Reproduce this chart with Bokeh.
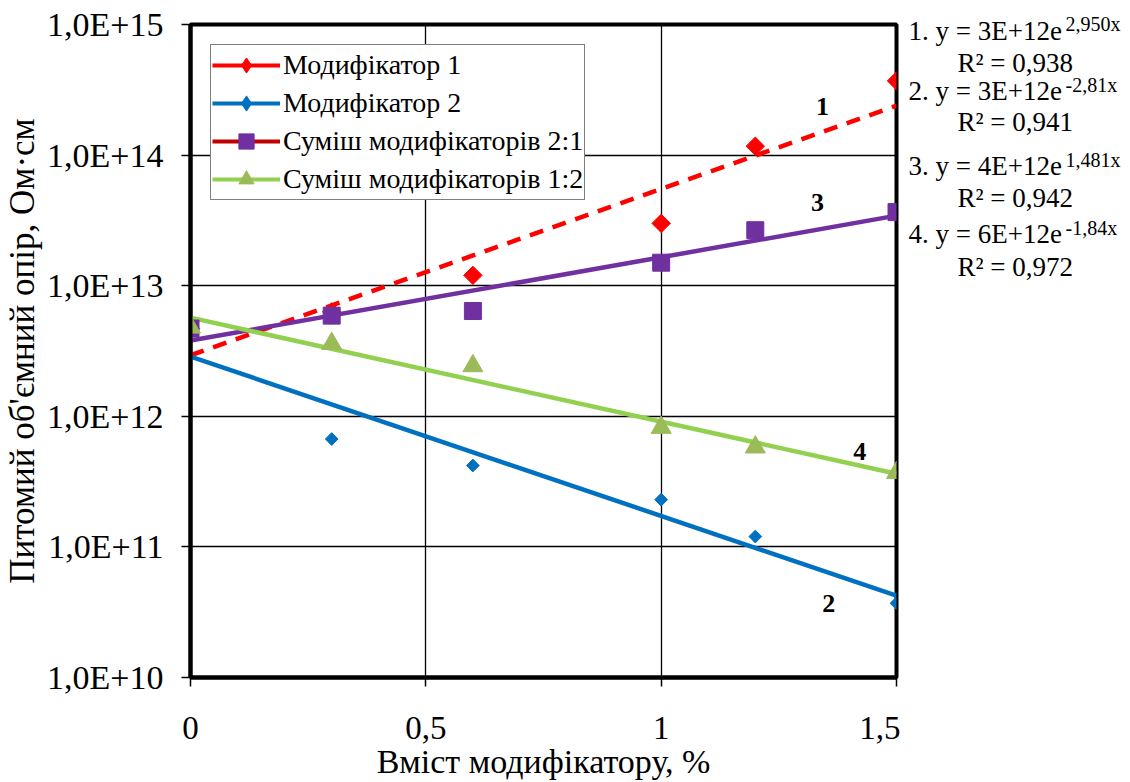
import numpy as np
from bokeh.plotting import figure
from bokeh.layouts import row, column
from bokeh.models import Range1d, FixedTicker, CustomJSTickFormatter, Legend, LegendItem, Label
from bokeh.core.properties import value
from bokeh.embed import file_html
from bokeh.resources import INLINE

# ---------------- data ----------------
x_pct = [0, 0.3, 0.6, 1.0, 1.2, 1.5]
mod1 = [4.7e12, 6.3e12, 1.2e13, 3.0e13, 1.17e14, 3.7e14]
mod2 = [4.7e12, 6.7e11, 4.2e11, 2.3e11, 1.2e11, 3.7e10]
mix21 = [4.7e12, 5.9e12, 6.4e12, 1.5e13, 2.66e13, 3.66e13]
mix12 = [4.8e12, 3.6e12, 2.43e12, 8.2e11, 5.8e11, 3.7e11]

series_names = ["Модифікатор 1", "Модифікатор 2",
                "Суміш модифікаторів 2:1", "Суміш модифікаторів 1:2"]
x_ticks = [0, 0.5, 1.0, 1.5]
y_ticks = [1e10, 1e11, 1e12, 1e13, 1e14, 1e15]

eq_base = ["1. y = 3E+12e", "2. y = 3E+12e", "3. y = 4E+12e", "4. y = 6E+12e"]
eq_exp = ["2,950x", "-2,81x", "1,481x", "-1,84x"]
eq_r2 = ["R² = 0,938", "R² = 0,941", "R² = 0,942", "R² = 0,972"]

curve_ids = ["1", "2", "3", "4"]
curve_id_x = [1.343, 1.356, 1.332, 1.422]
curve_id_y = [2.36e14, 3.7e10, 4.3e13, 5.4e11]

# text layout of the equation panel (page pixels; x from the panel's left edge)
eq_base_pos_x = [8, 8, 8, 8]
eq_base_pos_y = [30, 90, 165, 233]
eq_exp_pos_x = [165, 165, 165, 165]
eq_exp_pos_y = [23, 84, 159, 227]
eq_r2_pos_x = [57, 57, 57, 57]
eq_r2_pos_y = [62, 121, 197, 266]

FONT = "Liberation Serif"
H = 782
TOP = 24
FRAME_H = 654
BOTTOM = H - TOP - FRAME_H

# ---------------- main figure ----------------
p = figure(width=900, height=H, output_backend="svg", toolbar_location=None,
           y_axis_type="log", x_range=Range1d(0, 1.5), y_range=Range1d(1e10, 1e15),
           min_border_left=189, min_border_right=4, min_border_top=TOP,
           min_border_bottom=BOTTOM)
p.background_fill_color = "white"
p.border_fill_color = "white"
p.outline_line_color = "black"
p.outline_line_width = 4

for ax in (p.xaxis[0], p.yaxis[0]):
    ax.axis_line_width = 4
    ax.axis_line_color = "black"
    ax.major_tick_line_color = "black"
    ax.major_tick_line_width = 1.5
    ax.major_tick_out = 9
    ax.major_tick_in = 0
    ax.minor_tick_line_color = None
    ax.major_label_text_font = FONT
    ax.major_label_text_color = "black"
    ax.axis_label_text_font = FONT
    ax.axis_label_text_font_style = "normal"
    ax.axis_label_text_color = "black"

p.xaxis.ticker = FixedTicker(ticks=x_ticks)
p.xaxis.formatter = CustomJSTickFormatter(code="return tick.toString().replace('.', ',');")
p.xaxis.major_label_text_font_size = "33px"
p.xaxis.major_label_standoff = 30
p.xaxis.axis_label = "Вміст модифікатору, %"
p.xaxis.axis_label_text_font_size = "34px"
p.xaxis.axis_label_standoff = 1

p.yaxis.ticker = FixedTicker(ticks=y_ticks)
p.yaxis.formatter = CustomJSTickFormatter(code="return '1,0E+' + Math.round(Math.log10(tick));")
p.yaxis.major_label_text_font_size = "34px"
p.yaxis.major_label_standoff = 18
p.yaxis.axis_label = "Питомий об'ємний опір, Ом·см"
p.yaxis.axis_label_text_font_size = "35px"
p.yaxis.axis_label_standoff = 2

p.xgrid.ticker = FixedTicker(ticks=x_ticks)
p.ygrid.ticker = FixedTicker(ticks=y_ticks)
for g in (p.xgrid[0], p.ygrid[0]):
    g.grid_line_color = "black"
    g.grid_line_width = 1.3
    g.grid_line_alpha = 1.0

# ---------------- trend lines (exponential fits of the data) ----------------
xt = np.array([0.0, 1.5])
def trend(vals):
    b, a = np.polyfit(np.array(x_pct), np.log(np.array(vals)), 1)
    return np.exp(a + b * xt)

p.line(xt, trend(mod1), line_color="#ff0000", line_width=4.5, line_dash="14 10")
p.line(xt, trend(mod2), line_color="#0070c0", line_width=4.5)
p.line(xt, trend(mix21), line_color="#7030a0", line_width=4.5)
p.line(xt, trend(mix12), line_color="#92d050", line_width=4.5)

# ---------------- markers ----------------
p.scatter(x_pct, mod1, marker="square", angle=np.pi / 4, size=13,
          fill_color="#ff0000", line_color="#ff0000")
p.scatter(x_pct, mod2, marker="square", angle=np.pi / 4, size=9,
          fill_color="#0070c0", line_color="#0070c0")
p.scatter(x_pct, mix21, marker="square", size=17,
          fill_color="#7030a0", line_color="#7030a0")
p.scatter(x_pct, mix12, marker="triangle", size=20,
          fill_color="#9bbb59", line_color="#9bbb59")

# legend-only samples (placed outside the visible x range)
off_x = [-1.0, -0.5]
off_y = [1e12, 1e12]
l1 = p.line(off_x, off_y, line_color="#ff0000", line_width=4)
l2 = p.line(off_x, off_y, line_color="#0070c0", line_width=4)
l3 = p.line(off_x, off_y, line_color="#c00000", line_width=4)
l4 = p.line(off_x, off_y, line_color="#92d050", line_width=4)
m1 = p.scatter(off_x, off_y, marker="diamond", fill_color="#ff0000", line_color="#ff0000")
m2 = p.scatter(off_x, off_y, marker="diamond", fill_color="#0070c0", line_color="#0070c0")
m3 = p.scatter(off_x, off_y, marker="square", fill_color="#7030a0", line_color="#7030a0")
m4 = p.scatter(off_x, off_y, marker="triangle", fill_color="#9bbb59", line_color="#9bbb59")

legend = Legend(items=[
    LegendItem(label=series_names[0], renderers=[l1, m1]),
    LegendItem(label=series_names[1], renderers=[l2, m2]),
    LegendItem(label=series_names[2], renderers=[l3, m3]),
    LegendItem(label=series_names[3], renderers=[l4, m4]),
], location="top_left")
legend.margin = 20
legend.padding = 1
legend.spacing = 0
legend.label_height = 38
legend.glyph_height = 38
legend.glyph_width = 68
legend.label_standoff = 3
legend.label_text_font = FONT
legend.label_text_font_size = "28px"
legend.label_text_color = "black"
legend.border_line_color = "black"
legend.border_line_width = 1.5
legend.background_fill_alpha = 1.0
p.add_layout(legend)

# ---------------- curve numbers ----------------
for t, cx, cy in zip(curve_ids, curve_id_x, curve_id_y):
    p.add_layout(Label(x=cx, y=cy, text=t, text_font=FONT, text_font_size="26px",
                       text_font_style="bold", text_align="center", text_baseline="middle",
                       text_color="black"))

# ---------------- equation panel at the right ----------------
q = figure(width=226, height=H, output_backend="svg", toolbar_location=None, title=None,
           x_range=Range1d(0, 226), y_range=Range1d(H, 0),
           x_axis_location=None, y_axis_location=None, min_border=0)
q.grid.visible = False
q.outline_line_color = None
q.background_fill_color = "white"
q.border_fill_color = "white"

q.text(eq_base_pos_x, eq_base_pos_y, text=eq_base, text_font=value(FONT),
       text_font_size="27px", text_baseline="middle", text_align="left", text_color="black")
q.text(eq_exp_pos_x, eq_exp_pos_y, text=eq_exp, text_font=value(FONT),
       text_font_size="20px", text_baseline="middle", text_align="left", text_color="black")
q.text(eq_r2_pos_x, eq_r2_pos_y, text=eq_r2, text_font=value(FONT),
       text_font_size="27px", text_baseline="middle", text_align="left", text_color="black")

layout = row(p, column(q, spacing=0), spacing=0)
open("out.html", "w").write(file_html(layout, INLINE))
